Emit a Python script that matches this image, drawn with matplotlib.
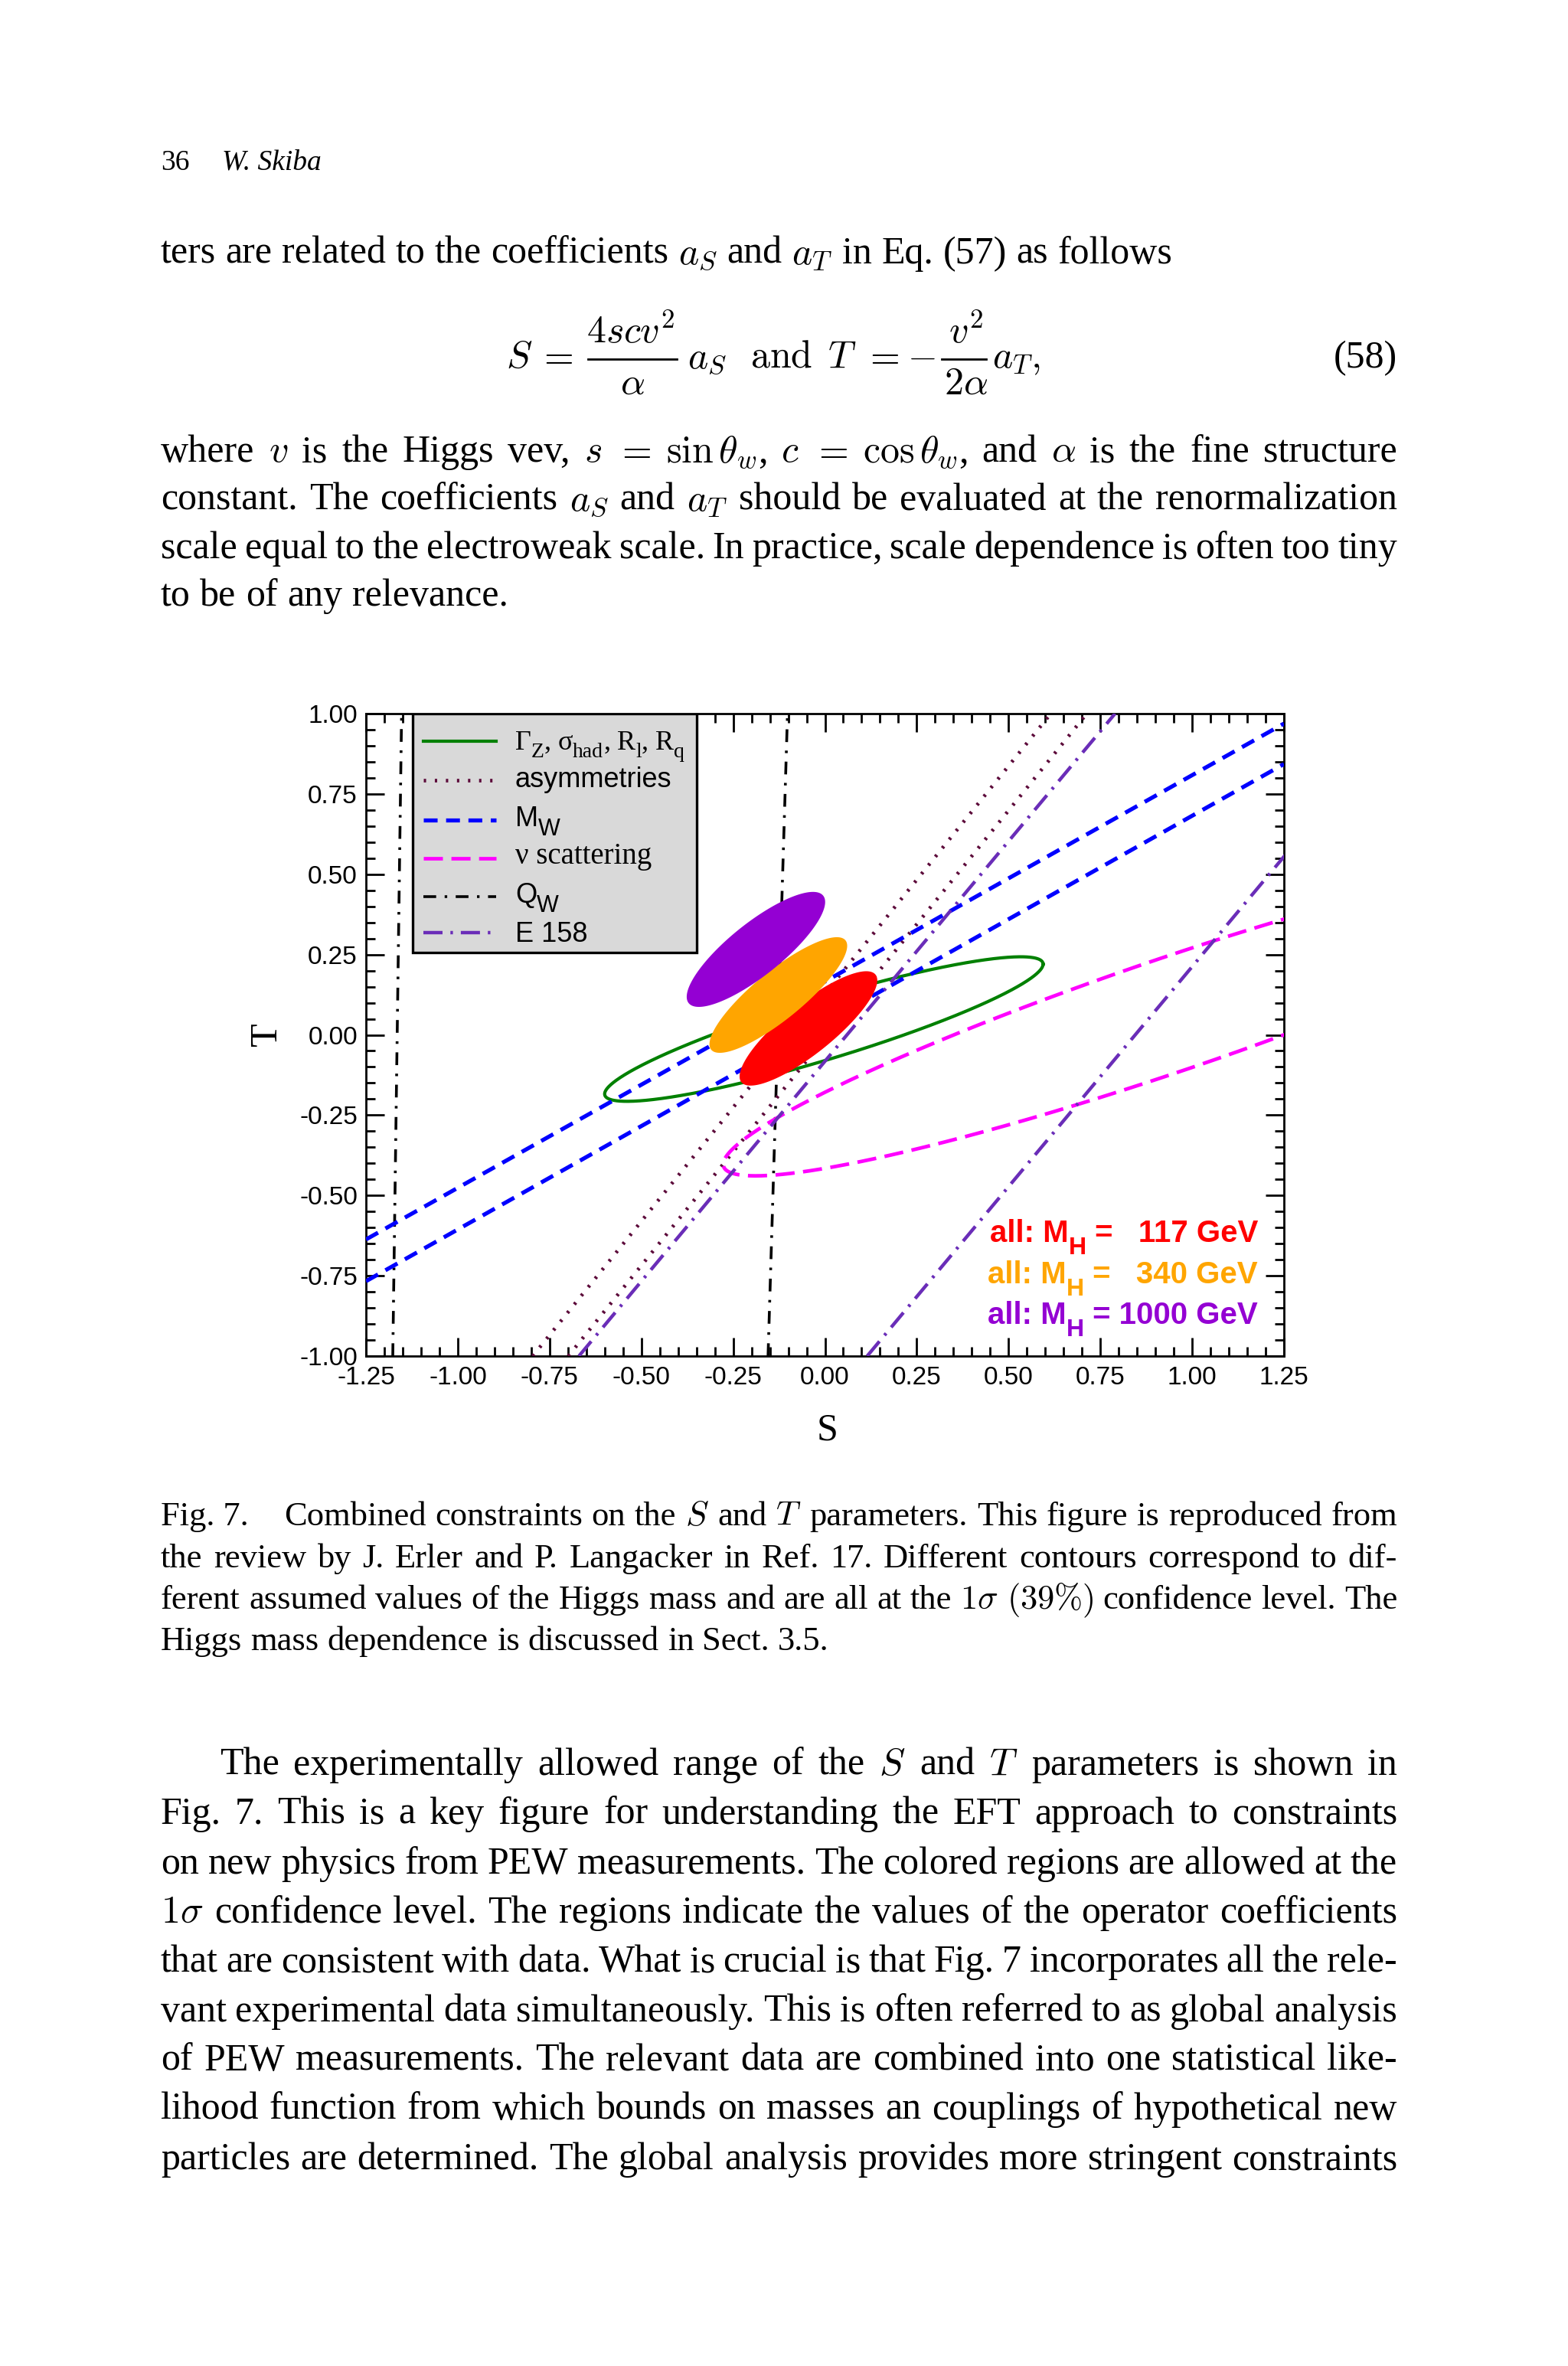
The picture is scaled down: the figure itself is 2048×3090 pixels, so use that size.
import numpy as np
import matplotlib
matplotlib.use('Agg')
import matplotlib.pyplot as plt
from matplotlib.patches import Rectangle
from matplotlib.lines import Line2D
from matplotlib.ticker import MultipleLocator, FormatStrFormatter

plt.rcParams.update({
    'font.family': ['Liberation Sans', 'DejaVu Sans'],
    'axes.unicode_minus': False,
    'mathtext.fontset': 'cm',
    'lines.scale_dashes': False,
})

# ---------------- data ----------------
# global fits (1 sigma): centre S, centre T, half-width in S, half-height in T, correlation
MH_VALUES = ['117', '340', '1000']
FIT_S0 = [-0.045, -0.127, -0.188]
FIT_T0 = [0.020, 0.124, 0.266]
FIT_SS = [0.1875, 0.1875, 0.1885]
FIT_ST = [0.178, 0.180, 0.179]
FIT_RHO = [0.84, 0.85, 0.824]

# Z-pole observables ellipse
ZPOLE_S0, ZPOLE_T0, ZPOLE_SS, ZPOLE_ST, ZPOLE_RHO = -0.003, 0.018, 0.597, 0.225, 0.898
# neutrino scattering contour
NU_S0, NU_T0, NU_SS, NU_ST, NU_RHO = 0.938, 0.061, 1.215, 0.500, 0.928

# M_W band (T at S = -1.25 and 1.25)
MW_S = [-1.25, 1.25]
MW_T_HI = [-0.637, 0.969]
MW_T_LO = [-0.767, 0.843]

# bands given as S at T = -1 and T = +1
BAND_T = [-1.0, 1.0]
ASYM_S_LEFT = [-0.796, 0.615]
ASYM_S_RIGHT = [-0.699, 0.713]
QW_S_LEFT = [-1.177, -1.153]
QW_S_RIGHT = [-0.155, -0.102]
E158_S_LEFT = [-0.670, 0.790]
E158_S_RIGHT = [0.115, 1.575]

X_TICKS = [-1.25, -1.00, -0.75, -0.50, -0.25, 0.00, 0.25, 0.50, 0.75, 1.00, 1.25]
Y_TICKS = [-1.00, -0.75, -0.50, -0.25, 0.00, 0.25, 0.50, 0.75, 1.00]

# ---------------- styles ----------------
FIT_COLORS = ['#ff0000', '#ffa500', '#9400d3']
C_GREEN = '#008000'
C_ASYM = '#5c0a3a'
C_BLUE = '#0000ff'
C_MAG = '#ff00ff'
C_QW = '#000000'
C_E158 = '#6a2db8'

ST_Z = dict(color=C_GREEN, lw=1.5, ls='-')
ST_ASYM = dict(color=C_ASYM, lw=1.7, dashes=(1.1, 4.1), dash_capstyle='butt')
ST_MW = dict(color=C_BLUE, lw=1.9, dashes=(6.5, 4.0))
ST_NU = dict(color=C_MAG, lw=1.7, dashes=(9.0, 4.0))
ST_QW = dict(color=C_QW, lw=1.3, dashes=(6.0, 4.0, 1.2, 4.0))
ST_E158 = dict(color=C_E158, lw=1.6, dashes=(9.0, 3.7, 1.2, 3.7))

W, H = 2048, 3090
fig = plt.figure(figsize=(W / 200, H / 200), dpi=200)
fig.patch.set_facecolor('white')
R = fig.canvas.get_renderer()


def fx(px):
    return px / W


def fy(py):
    return 1 - py / H


def ell(s0, t0, ss, st, rho, n=720):
    t = np.linspace(0, 2 * np.pi, n)
    return s0 + ss * np.cos(t), t0 + st * (rho * np.cos(t) + np.sqrt(1 - rho ** 2) * np.sin(t))


def measure(s, size, family='Liberation Serif', style='normal', weight='normal'):
    t = fig.text(0, 0, s, fontsize=size, family=family, fontstyle=style, fontweight=weight,
                 math_fontfamily='cm')
    w = t.get_window_extent(R).width
    t.remove()
    return w


def run_width(s, size, family, weight='normal'):
    return (measure('|' + s, size, family, weight=weight) - measure('|', size, family, weight=weight))


# ---------------- axes ----------------
L, B, Rt, Tp = 478, 1771, 1677, 932
ax = fig.add_axes([fx(L), fy(B), (Rt - L) / W, (B - Tp) / H])
ax.set_xlim(-1.25, 1.25)
ax.set_ylim(-1.0, 1.0)

# constraint lines
ax.plot(*ell(ZPOLE_S0, ZPOLE_T0, ZPOLE_SS, ZPOLE_ST, ZPOLE_RHO), zorder=3, **ST_Z)
ax.plot(ASYM_S_LEFT, BAND_T, zorder=3, **ST_ASYM)
ax.plot(ASYM_S_RIGHT, BAND_T, zorder=3, **ST_ASYM)
ax.plot(MW_S, MW_T_HI, zorder=3, **ST_MW)
ax.plot(MW_S, MW_T_LO, zorder=3, **ST_MW)
ax.plot(*ell(NU_S0, NU_T0, NU_SS, NU_ST, NU_RHO), zorder=3, **ST_NU)
ax.plot(QW_S_LEFT, BAND_T, zorder=2, **ST_QW)
ax.plot(QW_S_RIGHT, BAND_T, zorder=2, **ST_QW)
ax.plot(E158_S_LEFT, BAND_T, zorder=3, **ST_E158)
ax.plot(E158_S_RIGHT, BAND_T, zorder=3, **ST_E158)

# global fit regions
for s0, t0, ss, st, rho, c in zip(FIT_S0, FIT_T0, FIT_SS, FIT_ST, FIT_RHO, FIT_COLORS):
    xs, ys = ell(s0, t0, ss, st, rho)
    ax.fill(xs, ys, color=c, lw=0, zorder=5)

# ticks
ax.xaxis.set_minor_locator(MultipleLocator(0.05))
ax.yaxis.set_minor_locator(MultipleLocator(0.05))
ax.set_xticks(X_TICKS)
ax.set_yticks(Y_TICKS)
ax.xaxis.set_major_formatter(FormatStrFormatter('%.2f'))
ax.yaxis.set_major_formatter(FormatStrFormatter('%.2f'))
ax.tick_params(which='both', direction='in', top=True, right=True, width=1.0, colors='black')
ax.tick_params(which='major', length=8.6, labelsize=12, pad=4)
ax.tick_params(which='minor', length=4.4)
ax.tick_params(axis='x', which='major', pad=4.5)
for sp in ax.spines.values():
    sp.set_linewidth(1.0)

ax.set_xlabel('S', fontfamily='Liberation Serif', fontsize=18)
ax.set_ylabel('T', fontfamily='Liberation Serif', fontsize=18)
ax.xaxis.set_label_coords(0.5025, -0.088)
ax.yaxis.set_label_coords(-0.088, 0.5)


def ax_x(px):
    return (px - L) / (Rt - L)


def ax_y(py):
    return (B - py) / (B - Tp)


def ax_runs(parts, x, y, ha='left', color='black', weight='normal'):
    """parts: (text, family, size, dy_px); x, y in page pixels; drawn in axes fraction."""
    widths = [run_width(s, size, fam, weight) for s, fam, size, dy in parts]
    if ha == 'right':
        x -= sum(widths)
    for (s, fam, size, dy), w in zip(parts, widths):
        ax.text(ax_x(x), ax_y(y + dy), s, transform=ax.transAxes, fontfamily=fam, fontsize=size,
                fontweight=weight, color=color, ha='left', va='baseline', zorder=9)
        x += w


# legend (drawn in axes fraction)
leg_box = Rectangle((ax_x(539), ax_y(1244)), ax_x(910) - ax_x(539), 1 - ax_y(1244),
                    transform=ax.transAxes, facecolor='#d9d9d9', edgecolor='black', lw=1.2, zorder=8)
ax.add_patch(leg_box)
SER, SAN = 'Liberation Serif', 'Liberation Sans'
LEG_STYLES = [ST_Z, ST_ASYM, ST_MW, ST_NU, ST_QW, ST_E158]
LEG_LABELS = [
    [('Γ', SER, 13, 0), ('Z', SER, 10, 10), (',', SER, 13, 0), (' σ', SER, 13, 0), ('had', SER, 10, 10),
     (',', SER, 13, 0), (' R', SER, 13, 0), ('l', SER, 10, 10), (',', SER, 13, 0), (' R', SER, 13, 0),
     ('q', SER, 10, 10)],
    [('asymmetries', SAN, 13, 0)],
    [('M', SAN, 13, 0), ('W', SAN, 11, 12)],
    [('ν scattering', SER, 14, 0)],
    [('Q', SAN, 13, 0), ('W', SAN, 11, 12)],
    [('E 158', SAN, 13, 0)],
]
LEG_LINE_Y = [967.7, 1019, 1071, 1120.7, 1170.7, 1218]
LEG_TEXT_Y = [979, 1028, 1079, 1128, 1179, 1230]
for st, parts, ly, ty in zip(LEG_STYLES, LEG_LABELS, LEG_LINE_Y, LEG_TEXT_Y):
    ax.plot([ax_x(553), ax_x(648)], [ax_y(ly), ax_y(ly)], transform=ax.transAxes,
            zorder=9, clip_on=False, **st)
    ax_runs(parts, 673, ty)

# M_H annotations
ANN_Y = [1622, 1676, 1729]
ANN_NUM = ['  117 GeV', '  340 GeV', '1000 GeV']
for num, yy, c in zip(ANN_NUM, ANN_Y, FIT_COLORS):
    ax_runs([('all: M', SAN, 14.5, 0), ('H', SAN, 11.5, 16), (' = ' + num, SAN, 14.5, 0)],
            1643, yy, ha='right', color=c, weight='bold')

# ---------------- page text ----------------
SERIF = 'Liberation Serif'


def put(x, y, s, size, style='normal', ha='left'):
    fig.text(fx(x), fy(y), s, fontsize=size, family=SERIF, fontstyle=style,
             math_fontfamily='cm', ha=ha, va='baseline')


def line(text, y, size, x0=210, x1=1825, justify=True):
    tokens = text.split()
    widths = [measure(t, size) for t in tokens]
    space = measure('a a', size) - measure('aa', size)
    if justify and len(tokens) > 1:
        g = (x1 - x0 - sum(widths)) / (len(tokens) - 1)
    else:
        g = space
    x = x0
    for t, w in zip(tokens, widths):
        put(x, y, t, size)
        x += w + g


BODY = 18.0
CAP = 16.0

put(210, 222, '36', 13.5)
put(290, 222, 'W. Skiba', 13.5, style='italic')

line(r'ters are related to the coefficients $a_S$ and $a_T$ in Eq. (57) as follows', 344, BODY,
     justify=False)

# equation (58) built from pieces
EQ_BASE, EQ_NUM, EQ_DEN, EQ_BAR = 480, 448, 515, 469
put(661, EQ_BASE, r'$S$', BODY)
put(725.5, EQ_BASE, r'$=$', BODY, ha='center')
fig.add_artist(Line2D([fx(768), fx(884)], [fy(EQ_BAR), fy(EQ_BAR)], color='black', lw=1.0))
put(824, EQ_NUM, r'$4scv^2$', BODY, ha='center')
put(826, EQ_DEN, r'$\alpha$', BODY, ha='center')
put(898, EQ_BASE, r'$a_S$', BODY)
put(980, EQ_BASE, r'$\mathrm{and}$', BODY)
put(1081, EQ_BASE, r'$T$', BODY)
put(1151.5, EQ_BASE, r'$=$', BODY, ha='center')
put(1203, EQ_BASE, r'$-$', BODY, ha='center')
fig.add_artist(Line2D([fx(1230), fx(1288)], [fy(EQ_BAR), fy(EQ_BAR)], color='black', lw=1.0))
put(1262, EQ_NUM, r'$v^2$', BODY, ha='center')
put(1262, EQ_DEN, r'$2\alpha$', BODY, ha='center')
put(1296, EQ_BASE, r'$a_T,$', BODY)
put(1825, EQ_BASE, '(58)', BODY, ha='right')

PARA1 = [
    r'where $v$ is the Higgs vev, $s$ $=$ $\sin\theta_w$, $c$ $=$ $\cos\theta_w$, and $\alpha$ is the fine structure',
    r'constant. The coefficients $a_S$ and $a_T$ should be evaluated at the renormalization',
    r'scale equal to the electroweak scale. In practice, scale dependence is often too tiny',
    r'to be of any relevance.',
]
PARA1_Y = [603, 666, 729, 791]
for i, (t, yy) in enumerate(zip(PARA1, PARA1_Y)):
    line(t, yy, BODY, justify=(i < len(PARA1) - 1))

CAPTION = [
    r'Combined constraints on the $S$ and $T$ parameters. This figure is reproduced from',
    r'the review by J. Erler and P. Langacker in Ref. 17. Different contours correspond to dif-',
    r'ferent assumed values of the Higgs mass and are all at the $1\sigma$ $(39\%)$ confidence level. The',
    r'Higgs mass dependence is discussed in Sect. 3.5.',
]
CAP_Y = [1992, 2047, 2101, 2155]
put(210, CAP_Y[0], 'Fig. 7.', CAP)
for i, (t, yy) in enumerate(zip(CAPTION, CAP_Y)):
    line(t, yy, CAP, x0=(371 if i == 0 else 210), justify=(i < len(CAPTION) - 1))

PARA2 = [
    r'The experimentally allowed range of the $S$ and $T$ parameters is shown in',
    r'Fig. 7. This is a key figure for understanding the EFT approach to constraints',
    r'on new physics from PEW measurements. The colored regions are allowed at the',
    r'$1\sigma$ confidence level. The regions indicate the values of the operator coefficients',
    r'that are consistent with data. What is crucial is that Fig. 7 incorporates all the rele-',
    r'vant experimental data simultaneously. This is often referred to as global analysis',
    r'of PEW measurements. The relevant data are combined into one statistical like-',
    r'lihood function from which bounds on masses an couplings of hypothetical new',
    r'particles are determined. The global analysis provides more stringent constraints',
]
PARA2_Y = [2318, 2382, 2447, 2511, 2575, 2640, 2704, 2768, 2833]
for i, (t, yy) in enumerate(zip(PARA2, PARA2_Y)):
    line(t, yy, BODY, x0=(287 if i == 0 else 210))

fig.savefig('out.png', dpi=200, facecolor='white')
